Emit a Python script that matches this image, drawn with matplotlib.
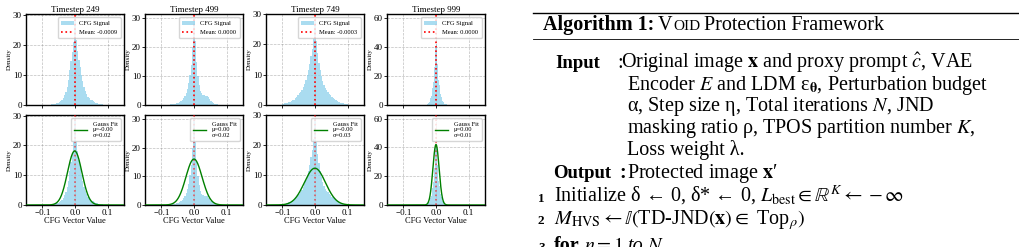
"""CFG signal histograms per timestep, next to the VOID algorithm box."""
import numpy as np
import matplotlib
matplotlib.use('Agg')
from matplotlib import pyplot as plt
from matplotlib.transforms import IdentityTransform

# ---- data ----
timesteps = [249, 499, 749, 999]
means = [-0.0009, 0.0000, -0.0003, 0.0000]
fit_mu = [-0.0009, 0.0000, -0.0003, 0.0000]
fit_sigma = [0.022, 0.0248, 0.0325, 0.0095]
bin_width = [0.004, 0.004, 0.004, 0.002]
bin_start = [-0.1, -0.1, -0.1, -0.04]   # centre of first bin
ymax = [30.2, 31.5, 30.0, 62.5]
yticks = [[0, 10, 20, 30], [0, 10, 20, 30], [0, 10, 20, 30], [0, 20, 40, 60]]

dens_249 = [0.05, 0.05, 0.06, 0.08, 0.1, 0.12, 0.15, 0.2, 0.25, 0.35,
            0.45, 0.6, 0.8, 1.0, 1.3, 1.7, 2.3, 3.2, 4.4, 6.0, 8.2, 11.5, 14.5, 17.5, 21.0,
            29.0,
            21.5, 18.0, 15.0, 12.5, 10.0, 8.0, 6.0, 4.6, 3.6, 2.8, 2.3, 1.8, 1.5, 1.2, 1.0,
            0.8, 0.6, 0.45, 0.35, 0.25, 0.2, 0.15, 0.1, 0.08, 0.06]
dens_499 = [0.05, 0.06, 0.07, 0.08, 0.1, 0.12, 0.15, 0.2, 0.25, 0.3,
            0.4, 0.5, 0.65, 0.8, 1.0, 1.3, 1.7, 2.3, 3.1, 4.2, 5.5, 7.5, 10.5, 14.0, 20.0,
            30.0,
            22.0, 15.0, 10.0, 7.0, 5.0, 4.0, 3.5, 3.3, 3.2, 3.0, 2.6, 2.0, 1.4, 0.9, 0.6,
            0.4, 0.3, 0.2, 0.15, 0.1, 0.08, 0.06, 0.05, 0.04, 0.03]
dens_749 = [0.3, 0.4, 0.5, 0.6, 0.7, 0.85, 1.0, 1.2, 1.5, 1.8,
            2.2, 2.7, 3.2, 3.8, 4.4, 5.1, 6.0, 7.0, 8.3, 10.0, 11.5, 13.5, 16.0, 18.5, 22.0,
            28.5,
            21.0, 17.0, 14.0, 11.5, 9.5, 7.8, 6.5, 5.5, 4.8, 4.2, 3.7, 3.2, 2.8, 2.4, 2.0,
            1.7, 1.4, 1.1, 0.9, 0.75, 0.6, 0.5, 0.4, 0.35, 0.3]
dens_999 = [0.05, 0.07, 0.1, 0.15, 0.2, 0.3, 0.45, 0.7, 1.0, 1.5,
            2.2, 3.2, 4.6, 6.5, 9.0, 12.0, 16.0, 21.0, 26.0, 40.0,
            59.0,
            42.0, 28.0, 23.0, 17.0, 13.5, 10.0, 7.5, 5.5, 4.0, 2.9,
            2.1, 1.5, 1.0, 0.7, 0.5, 0.35, 0.25, 0.18, 0.12, 0.08]
densities = [dens_249, dens_499, dens_749, dens_999]

W, H = 1020, 247
plt.rcParams['font.family'] = ['Liberation Serif', 'DejaVu Serif']
plt.rcParams['mathtext.fontset'] = 'stix'
plt.rcParams['axes.unicode_minus'] = True

fig = plt.figure(figsize=(W / 100, H / 100), dpi=100)


def px_axes(left, top, width, height):
    return fig.add_axes([left / W, 1 - (top + height) / H, width / W, height / H])


lefts = [26, 145, 266, 387]
gx = np.linspace(-0.15, 0.15, 600)

for i in range(4):
    centers = bin_start[i] + bin_width[i] * np.arange(len(densities[i]))
    for row in range(2):
        top = 14 if row == 0 else 115
        ax = px_axes(lefts[i], top, 98, 91 if row == 0 else 90)
        bars = ax.bar(centers, densities[i], width=bin_width[i], color='skyblue', alpha=0.7,
                      linewidth=0, zorder=2)
        if row == 0:
            mline = ax.axvline(means[i], color='red', linestyle=':', linewidth=1.2, zorder=3)
            ax.set_title('Timestep %d' % timesteps[i], fontsize=6.5, pad=1.5)
            handles = [bars, mline]
            labels = ['CFG Signal', 'Mean: %.4f' % means[i]]
        else:
            ax.axvline(means[i], color='red', linestyle=':', linewidth=1.2, alpha=0.6, zorder=3)
            pdf = np.exp(-0.5 * ((gx - fit_mu[i]) / fit_sigma[i]) ** 2) / (fit_sigma[i] * np.sqrt(2 * np.pi))
            gline, = ax.plot(gx, pdf, color='green', linewidth=1.0, zorder=4)
            ax.set_xlabel('CFG Vector Value', fontsize=6, labelpad=0)
            handles = [gline]
            labels = ['Gauss Fit\n\u03bc=%.2f\n\u03c3=%.2f' % (fit_mu[i], fit_sigma[i])]
        ax.set_xlim(-0.15, 0.15)
        ax.set_ylim(0, ymax[i])
        ax.set_xticks([-0.1, 0.0, 0.1])
        ax.set_yticks(yticks[i])
        if row == 0:
            ax.set_xticklabels([])
        ax.tick_params(labelsize=6.5, length=2, width=0.6, pad=1)
        ax.set_ylabel('Density', fontsize=5, labelpad=1)
        ax.grid(True, linestyle='--', color='gray', alpha=0.5, linewidth=0.5, zorder=0)
        ax.set_axisbelow(True)
        for sp in ax.spines.values():
            sp.set_linewidth(1.0)
        ax.legend(handles, labels, loc='upper right', fontsize=4.7, handlelength=2.0,
                  borderpad=0.5, labelspacing=0.5, framealpha=0.8)

# ---- algorithm box ----
fig.canvas.draw()
rend = fig.canvas.get_renderer()
ident = IdentityTransform()
BODY = 14.5


def put(x, y, parts):
    """draw text pieces one after another, y measured from the top"""
    for s, kw, gap in parts:
        x += gap
        t = fig.text(x, H - y, s, transform=ident, va='baseline', ha='left',
                     fontsize=kw.pop('size', BODY), **kw)
        x = t.get_window_extent(rend).x1
    return x


fig.add_artist(plt.Line2D([533, W], [H - 13, H - 13], transform=ident, color='black', linewidth=1.0))
fig.add_artist(plt.Line2D([533, W], [H - 39, H - 39], transform=ident, color='black', linewidth=0.6))

put(543, 30, [('Algorithm 1:', {'weight': 'bold'}, 0), ('V', {}, 4),
              ('OID', {'size': 11}, 0.5), ('Protection Framework', {}, 4)])
put(555, 68, [('Input', {'weight': 'bold', 'size': 13.5}, 0)])
put(617, 68, [(':', {}, 0)])
put(621, 68, [(r'Original image $\mathbf{x}$ and proxy prompt $\hat{c}$, VAE', {}, 0)])
put(627, 90, [('Encoder $E$ and LDM \u03b5$_{\\mathbf{\u03b8}}$, Perturbation budget', {}, 0)])
put(627, 111, [('\u03b1, Step size \u03b7, Total iterations $N$, JND', {}, 0)])
put(627, 133, [('masking ratio \u03c1, TPOS partition number $K$,', {}, 0)])
put(627, 155, [('Loss weight \u03bb.', {}, 0)])
put(553, 178, [('Output', {'weight': 'bold', 'size': 13.5}, 0)])
put(619, 178, [(':', {'weight': 'bold'}, 0)])
put(627, 178, [('Protected image $\\mathbf{x}$\u2032', {}, 0)])
put(538, 202, [('1', {'weight': 'bold', 'size': 9.5}, 0)])
put(554, 202, [('Initialize \u03b4 \u2190 0, \u03b4* \u2190 0, $L_{\\mathrm{best}} \\in \\mathbb{R}^{K} \\leftarrow -\\infty$', {}, 0)])
put(538, 224, [('2', {'weight': 'bold', 'size': 9.5}, 0)])
put(554, 224, [('$M_{\\mathrm{HVS}} \\leftarrow \\mathbb{I}($TD-JND$(\\mathbf{x}) \\in$ Top$_{\u03c1})$', {}, 0)])
put(538, 251, [('3', {'weight': 'bold', 'size': 9.5}, 0)])
put(554, 251, [('for', {'weight': 'bold'}, 0), ('$n = 1$', {}, 4), ('to', {'style': 'italic'}, 4), ('$N$', {}, 4)])

fig.savefig('out.png', dpi=100)
